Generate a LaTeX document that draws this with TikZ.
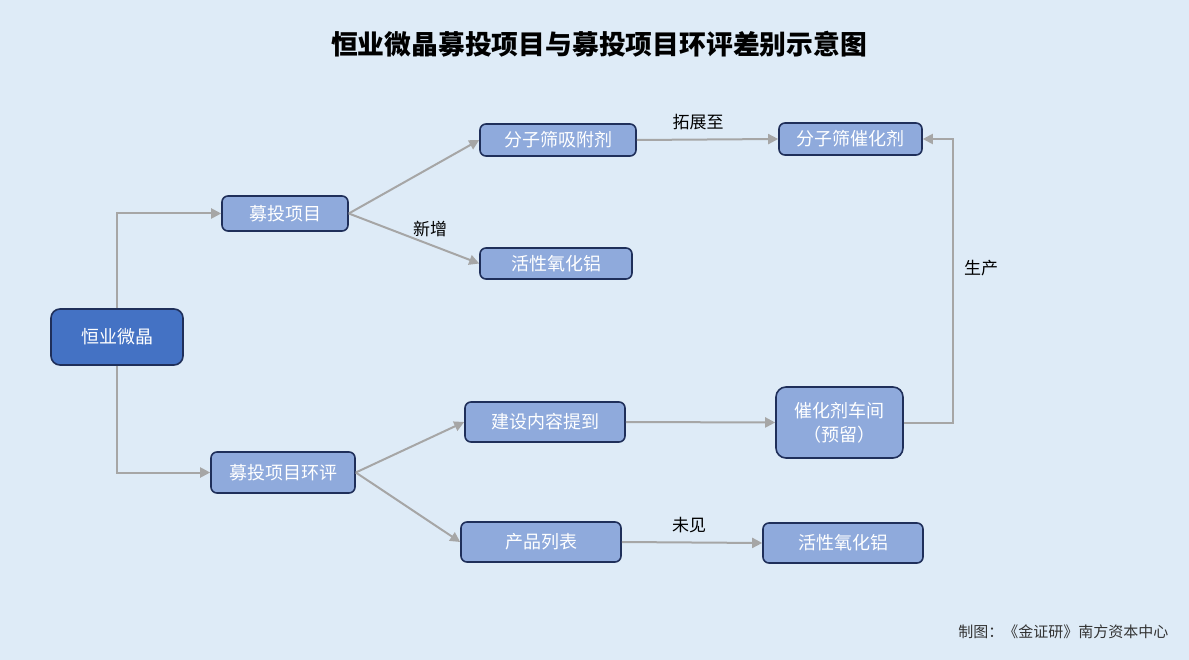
\documentclass[tikz,border=0pt]{standalone}
\usepackage{fontspec}
\setmainfont{Noto Sans CJK SC}
\usetikzlibrary{arrows.meta}
\definecolor{bgblue}{HTML}{DEEBF7}
\definecolor{boxblue}{HTML}{8FAADC}
\definecolor{darkblue}{HTML}{4472C4}
\definecolor{navy}{HTML}{1F2F5A}
\definecolor{linkgray}{HTML}{A6A6A6}
\tikzset{
  box/.style={draw=navy, fill=boxblue, line width=1.6pt, rounded corners=6pt, text=white,
    font=\fontsize{18}{24}\selectfont, align=center, inner sep=0pt},
  link/.style={draw=linkgray, line width=2pt, -{Triangle[length=10pt,width=10pt]}},
  tag/.style={font=\fontsize{17}{20}\selectfont, text=black}
}
\begin{document}
\begin{tikzpicture}[x=1pt, y=-1pt]
\fill[bgblue] (0,0) rectangle (1189,660);
\useasboundingbox (0,0) rectangle (1189,660);

\node[font=\fontsize{26.8}{30}\selectfont\bfseries] (title) at (599,44) {恒业微晶募投项目与募投项目环评差别示意图};

\node[box, fill=darkblue, minimum width=132pt, minimum height=56pt, rounded corners=9pt] (hywj) at (117,337) {恒业微晶};
\node[box, minimum width=126pt, minimum height=35pt] (mtxm) at (285,213.5) {募投项目};
\node[box, minimum width=144pt, minimum height=41pt] (mthp) at (283,472.5) {募投项目环评};
\node[box, minimum width=156pt, minimum height=32pt] (xfj) at (558,140) {分子筛吸附剂};
\node[box, minimum width=152pt, minimum height=31pt] (lvA) at (556,263.5) {活性氧化铝};
\node[box, minimum width=143pt, minimum height=32pt] (chj) at (850.5,139) {分子筛催化剂};
\node[box, minimum width=160pt, minimum height=40pt] (jsnr) at (545,422) {建设内容提到};
\node[box, minimum width=127pt, minimum height=71pt, rounded corners=10pt] (cjj) at (839.5,422.5) {催化剂车间\\（预留）};
\node[box, minimum width=160pt, minimum height=40pt] (cplb) at (541,542) {产品列表};
\node[box, minimum width=160pt, minimum height=40pt] (lvB) at (843,543) {活性氧化铝};

\draw[link] (hywj.north) |- (mtxm.west);
\draw[link] (hywj.south) |- (mthp.west);
\foreach \from/\to in {mtxm/xfj,mtxm/lvA,xfj/chj,mthp/jsnr,mthp/cplb,jsnr/cjj,cplb/lvB}
  \draw[link] (\from.east) -- (\to.west);
\draw[link] (cjj.east) -- ++(49,0) |- (chj.east);

\node[tag] (xz) at (430,229) {新增};
\node[tag] (tzz) at (698,122) {拓展至};
\node[tag] (sc) at (981,268) {生产};
\node[tag] (wj) at (689,525) {未见};

\node[font=\fontsize{15}{18}\selectfont, text=black!80, anchor=east] (credit) at (1172,632) {制图：《金证研》南方资本中心};
\end{tikzpicture}
\end{document}
